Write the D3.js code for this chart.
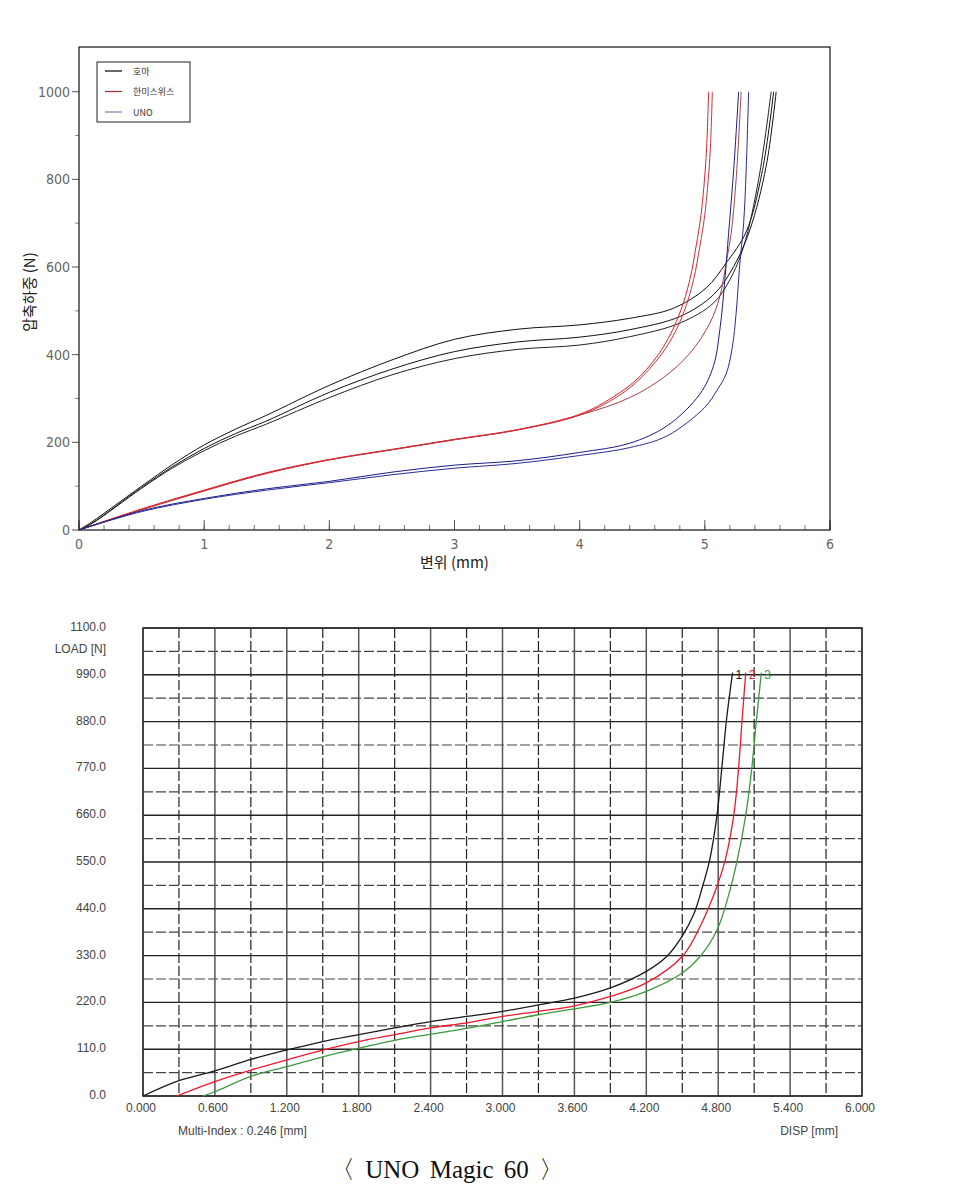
<!DOCTYPE html>
<html>
<head>
<meta charset="utf-8">
<script src="https://cdn.jsdelivr.net/npm/d3@7"></script>
<style>
  body { margin: 0; background: #fff; }
  svg { display: block; }
</style>
</head>
<body>
<svg id="chart" width="978" height="1185"></svg>
<script>
// ---- top chart data: [displacement mm, load N] ----
var homaA = [[0,0],[0.1,18],[0.5,100],[0.75,150],[1,194],[1.25,230],[1.5,262],[2,330],[2.5,388],[3,435],[3.5,458],[4,468],[4.4,483],[4.75,506],[5.01,552],[5.17,609],[5.33,680],[5.46,820],[5.55,1000]];
var homaB = [[0,0],[0.1,15],[0.5,97],[0.75,145],[1,186],[1.25,220],[1.5,249],[2,314],[2.5,367],[3,407],[3.5,429],[4,440],[4.4,457],[4.8,487],[5.07,537],[5.23,601],[5.36,685],[5.49,830],[5.57,1000]];
var homaC = [[0,0],[0.1,14],[0.5,95],[0.75,142],[1,181],[1.25,214],[1.5,242],[2,302],[2.5,354],[3,391],[3.5,412],[4,422],[4.4,441],[4.8,472],[5.07,518],[5.2,571],[5.31,647],[5.43,800],[5.53,1000]];
var hanmiA = [[0,0],[0.5,48],[1,91],[1.5,131],[2,161],[2.5,184],[3,207],[3.5,229],[4,264],[4.27,304],[4.48,350],[4.67,418],[4.8,495],[4.88,571],[4.93,647],[4.97,720],[5.01,850],[5.03,1000]];
var hanmiB = [[0,0],[0.5,46],[1,89],[1.5,129],[2,160],[2.5,183],[3,206],[3.5,228],[4,262],[4.3,304],[4.5,350],[4.7,420],[4.83,495],[4.91,571],[4.96,647],[5,720],[5.04,850],[5.06,1000]];
var hanmiC = [[0,0],[0.5,47],[1,90],[1.5,130],[2,160],[2.5,183],[3,206],[3.5,228],[4,262],[4.4,302],[4.67,348],[4.88,403],[5.04,472],[5.12,533],[5.17,609],[5.21,677],[5.25,800],[5.29,1000]];
var unoA = [[0,0],[0.5,44],[1,72],[1.5,94],[2,111],[2.5,132],[3,148],[3.5,158],[4,177],[4.4,198],[4.7,238],[4.96,310],[5.07,375],[5.12,457],[5.16,571],[5.19,677],[5.23,820],[5.27,1000]];
var unoB = [[0,0],[0.5,42],[1,70],[1.5,91],[2,108],[2.5,126],[3,141],[3.5,152],[4,170],[4.4,188],[4.7,215],[5,280],[5.1,320],[5.17,356],[5.22,418],[5.25,495],[5.28,609],[5.31,700],[5.33,820],[5.35,1000]];

var legendNames = ["호마", "한미스위스", "UNO"];
var topXTicks = [0, 1, 2, 3, 4, 5, 6];
var topYTicks = [0, 200, 400, 600, 800, 1000];

// ---- bottom chart data (UNO Magic 60) ----
var magic1 = [[0,0],[0.3,36],[0.6,59],[0.9,86],[1.2,108],[1.5,128],[1.8,144],[2.1,160],[2.4,175],[2.7,187],[3,199],[3.3,214],[3.6,230],[3.9,254],[4.2,293],[4.37,328],[4.5,376],[4.6,430],[4.67,493],[4.73,556],[4.79,660],[4.83,770],[4.87,886],[4.92,995]];
var magic2 = [[0.28,0],[0.6,34],[0.9,61],[1.2,85],[1.5,108],[1.8,128],[2.1,144],[2.4,160],[2.7,172],[3,187],[3.3,199],[3.6,212],[3.9,234],[4.2,266],[4.5,328],[4.65,399],[4.79,493],[4.86,556],[4.93,660],[4.97,770],[5,886],[5.03,995]];
var magic3 = [[0.5,0],[0.6,10],[0.9,46],[1.2,69],[1.5,92],[1.8,112],[2.1,131],[2.4,145],[2.7,159],[3,175],[3.3,191],[3.6,205],[3.9,220],[4.2,246],[4.5,289],[4.65,328],[4.79,390],[4.88,465],[4.96,556],[5.03,660],[5.08,770],[5.12,886],[5.16,995]];
var magicLabels = ["1", "2", "3"];
var bottomXTicks = [0, 0.6, 1.2, 1.8, 2.4, 3.0, 3.6, 4.2, 4.8, 5.4, 6.0];
var bottomYTicks = [0, 110, 220, 330, 440, 550, 660, 770, 880, 990, 1100];

var svg = d3.select("#chart");
svg.append("rect").attr("width", 978).attr("height", 1185).attr("fill", "#fff");

var narrow = "'DejaVu Sans Condensed', 'Liberation Sans Narrow', 'Liberation Sans', sans-serif";
var kor = "'Noto Sans CJK KR', 'Noto Sans', sans-serif";

// =================== top chart ===================
var t = {left: 79, right: 830, top: 47, bottom: 530};
var x1 = d3.scaleLinear().domain([0, 6]).range([t.left, t.right]);
var y1 = d3.scaleLinear().domain([0, 1102]).range([t.bottom, t.top]);

var topG = svg.append("g");

// y axis ticks
topG.selectAll(".ymaj").data(topYTicks).enter().append("line")
    .attr("x1", t.left - 7).attr("x2", t.left)
    .attr("y1", function(d) { return y1(d); }).attr("y2", function(d) { return y1(d); })
    .attr("stroke", "#555");
topG.selectAll(".ymin").data(d3.range(100, 1100, 200)).enter().append("line")
    .attr("x1", t.left - 4).attr("x2", t.left)
    .attr("y1", function(d) { return y1(d); }).attr("y2", function(d) { return y1(d); })
    .attr("stroke", "#888");
topG.selectAll(".ylab").data(topYTicks).enter().append("text")
    .attr("x", t.left - 9).attr("y", function(d) { return y1(d) + 5; })
    .attr("text-anchor", "end")
    .style("font-family", narrow).style("font-size", "14px").attr("fill", "#666")
    .text(function(d) { return d; });

// x axis ticks (inside)
topG.selectAll(".xmin").data(d3.range(0, 6.01, 0.2)).enter().append("line")
    .attr("x1", function(d) { return x1(d); }).attr("x2", function(d) { return x1(d); })
    .attr("y1", t.bottom).attr("y2", t.bottom - 5)
    .attr("stroke", "#777");
topG.selectAll(".xmaj").data(topXTicks).enter().append("line")
    .attr("x1", function(d) { return x1(d); }).attr("x2", function(d) { return x1(d); })
    .attr("y1", t.bottom).attr("y2", t.bottom - 10)
    .attr("stroke", "#555");
topG.selectAll(".xlab").data(topXTicks).enter().append("text")
    .attr("x", function(d) { return x1(d); }).attr("y", t.bottom + 19)
    .attr("text-anchor", "middle")
    .style("font-family", narrow).style("font-size", "14px").attr("fill", "#666")
    .text(function(d) { return d; });

// frame
topG.append("rect")
    .attr("x", t.left).attr("y", t.top)
    .attr("width", t.right - t.left).attr("height", t.bottom - t.top)
    .attr("fill", "none").attr("stroke", "#111").attr("stroke-width", 1.2);

// axis titles
topG.append("text")
    .attr("x", x1(3)).attr("y", 568)
    .attr("text-anchor", "middle")
    .style("font-family", kor).style("font-size", "15px").attr("fill", "#222")
    .text("변위 (mm)");
topG.append("text")
    .attr("transform", "translate(35," + 292 + ") rotate(-90)")
    .attr("text-anchor", "middle")
    .style("font-family", kor).style("font-size", "15px").attr("fill", "#222")
    .text("압축하중 (N)");

// curves
var line1 = d3.line()
    .x(function(d) { return x1(d[0]); })
    .y(function(d) { return y1(d[1]); })
    .curve(d3.curveCatmullRom.alpha(0.5));

var topSeries = [
  {data: homaA, color: "#111"}, {data: homaB, color: "#111"}, {data: homaC, color: "#222"},
  {data: hanmiC, color: "#a8404a"}, {data: hanmiA, color: "#e0202a"}, {data: hanmiB, color: "#d03038"},
  {data: unoA, color: "#1c1c8a"}, {data: unoB, color: "#2a2a9a"}
];
topG.selectAll(".curve").data(topSeries).enter().append("path")
    .attr("d", function(d) { return line1(d.data); })
    .attr("fill", "none")
    .attr("stroke", function(d) { return d.color; })
    .attr("stroke-width", 1);

// legend
var lg = topG.append("g").attr("transform", "translate(97,62)");
lg.append("rect").attr("width", 93).attr("height", 60)
    .attr("fill", "#fff").attr("stroke", "#222");
var legendColors = ["#000", "#b02838", "#7a7ab8"];
lg.selectAll(".lgline").data(legendNames).enter().append("line")
    .attr("x1", 8).attr("x2", 25)
    .attr("y1", function(d, i) { return 9 + i * 20.5; })
    .attr("y2", function(d, i) { return 9 + i * 20.5; })
    .attr("stroke", function(d, i) { return legendColors[i]; })
    .attr("stroke-width", 1.2);
lg.selectAll(".lgtext").data(legendNames).enter().append("text")
    .attr("x", 36).attr("y", function(d, i) { return 12.5 + i * 20.5; })
    .style("font-family", kor).style("font-size", "9px").attr("fill", "#333")
    .text(function(d) { return d; });

// =================== bottom chart ===================
var b = {left: 143, right: 862, top: 628, bottom: 1096};
var x2 = d3.scaleLinear().domain([0, 6]).range([b.left, b.right]);
var y2 = d3.scaleLinear().domain([0, 1100]).range([b.bottom, b.top]);

var bot = svg.append("g");
var sans = "'Liberation Sans', Arial, sans-serif";

// dashed grid (half steps)
bot.selectAll(".vdash").data(d3.range(0.3, 6, 0.6)).enter().append("line")
    .attr("x1", function(d) { return x2(d); }).attr("x2", function(d) { return x2(d); })
    .attr("y1", b.top).attr("y2", b.bottom)
    .attr("stroke", "#222").attr("stroke-width", 1.2).attr("stroke-dasharray", "10,3");
bot.selectAll(".hdash").data(d3.range(55, 1100, 110)).enter().append("line")
    .attr("x1", b.left).attr("x2", b.right)
    .attr("y1", function(d) { return y2(d); }).attr("y2", function(d) { return y2(d); })
    .attr("stroke", "#444").attr("stroke-width", 1.2).attr("stroke-dasharray", "10,3");
// solid grid
bot.selectAll(".vsolid").data(bottomXTicks).enter().append("line")
    .attr("x1", function(d) { return x2(d); }).attr("x2", function(d) { return x2(d); })
    .attr("y1", b.top).attr("y2", b.bottom)
    .attr("stroke", "#555").attr("stroke-width", 1.5);
bot.selectAll(".hsolid").data(bottomYTicks).enter().append("line")
    .attr("x1", b.left).attr("x2", b.right)
    .attr("y1", function(d) { return y2(d); }).attr("y2", function(d) { return y2(d); })
    .attr("stroke", "#222").attr("stroke-width", 1.4);
bot.append("rect")
    .attr("x", b.left).attr("y", b.top)
    .attr("width", b.right - b.left).attr("height", b.bottom - b.top)
    .attr("fill", "none").attr("stroke", "#333").attr("stroke-width", 1.5);

// tick labels
bot.selectAll(".bxl").data(bottomXTicks).enter().append("text")
    .attr("x", function(d) { return x2(d) - 2; }).attr("y", b.bottom + 16)
    .attr("text-anchor", "middle")
    .style("font-family", sans).style("font-size", "12px").attr("fill", "#444")
    .text(function(d) { return d.toFixed(3); });
bot.selectAll(".byl").data(bottomYTicks).enter().append("text")
    .attr("x", 106).attr("y", function(d) { return y2(d) + 3; })
    .attr("text-anchor", "end")
    .style("font-family", sans).style("font-size", "12px").attr("fill", "#444")
    .text(function(d) { return d.toFixed(1); });
bot.append("text").attr("x", 106).attr("y", 653).attr("text-anchor", "end")
    .style("font-family", sans).style("font-size", "12px").attr("fill", "#444")
    .text("LOAD [N]");
bot.append("text").attr("x", 178).attr("y", 1135)
    .style("font-family", sans).style("font-size", "12px").attr("fill", "#444")
    .text("Multi-Index : 0.246 [mm]");
bot.append("text").attr("x", 838).attr("y", 1135).attr("text-anchor", "end")
    .style("font-family", sans).style("font-size", "12px").attr("fill", "#444")
    .text("DISP [mm]");

// curves
var line2 = d3.line()
    .x(function(d) { return x2(d[0]); })
    .y(function(d) { return y2(d[1]); })
    .curve(d3.curveCatmullRom.alpha(0.5));
var botSeries = [
  {data: magic1, color: "#1a1a1a"},
  {data: magic2, color: "#f0182c"},
  {data: magic3, color: "#3c9a3c"}
];
bot.selectAll(".bcurve").data(botSeries).enter().append("path")
    .attr("d", function(d) { return line2(d.data); })
    .attr("fill", "none")
    .attr("stroke", function(d) { return d.color; })
    .attr("stroke-width", 1.3);
bot.selectAll(".blab").data(botSeries).enter().append("text")
    .attr("x", function(d) { var p = d.data[d.data.length - 1]; return x2(p[0]) + 3; })
    .attr("y", function(d) { var p = d.data[d.data.length - 1]; return y2(p[1]) + 6; })
    .style("font-family", sans).style("font-size", "12px")
    .attr("fill", function(d) { return d.color; })
    .text(function(d, i) { return magicLabels[i]; });

// caption
svg.append("text")
    .attr("x", 447).attr("y", 1178)
    .attr("text-anchor", "middle")
    .style("font-family", "'Liberation Serif', 'Times New Roman', serif")
    .style("font-size", "25px").style("word-spacing", "4px").attr("fill", "#111")
    .text("〈 UNO Magic 60 〉");
</script>
</body>
</html>
